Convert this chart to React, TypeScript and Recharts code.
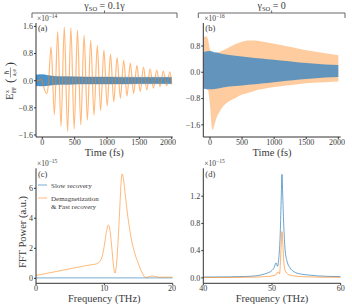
import React from 'react';
import { ComposedChart, Line, Area, XAxis, YAxis } from 'recharts';

const FONT = '"Liberation Serif", "DejaVu Serif", serif';
const BLUE = '#1f77b4';
const ORANGE = '#ff7f0e';
const INK = '#3a3a3a';

// (a) gamma_SO = 0.1 gamma : orange peaks/troughs, blue fast band
const timeA = [
  -100, -60, -20, 10, 40, 70, 95, 136, 187, 238, 289, 340, 391, 442, 493, 544, 595, 646, 697,
  748, 799, 850, 901, 952, 1003, 1054, 1105, 1156, 1207, 1258, 1309, 1360, 1411, 1462, 1513,
  1564, 1615, 1666, 1717, 1768, 1819, 1870, 1921, 1972, 2000,
];
const orangeA = [
  0.02, 0.0, 0.05, -0.1, -0.3, -0.38, -0.1, 1.0, -1.0, 1.45, -1.35, 1.58, -1.5, 1.56, -1.42,
  1.48, -1.3, 1.34, -1.16, 1.19, -1.02, 1.04, -0.88, 0.9, -0.74, 0.78, -0.62, 0.68, -0.52, 0.6,
  -0.45, 0.52, -0.38, 0.45, -0.32, 0.4, -0.27, 0.35, -0.22, 0.31, -0.18, 0.28, -0.15, 0.26, -0.1,
];
const bandTimeA = [-100, 0, 100, 200, 400, 700, 1000, 1500, 2000];
const blueLoA = [-0.15, -0.16, -0.14, -0.12, -0.11, -0.1, -0.1, -0.09, -0.09];
const blueHiA = [0.17, 0.18, 0.15, 0.13, 0.12, 0.11, 0.11, 0.1, 0.1];

// (b) gamma_SO = 0 : both signals are dense bands
const orangeTimeB = [
  -100, -60, -30, 0, 30, 45, 70, 100, 150, 200, 300, 400, 500, 600, 700, 800, 1000, 1200, 1400,
  1600, 1800, 2000,
];
const orangeLoB = [
  -0.45, -0.5, -0.55, -1.0, -1.7, -1.75, -1.6, -1.4, -1.2, -1.05, -0.88, -0.78, -0.68, -0.62,
  -0.56, -0.52, -0.45, -0.4, -0.36, -0.32, -0.3, -0.28,
];
const orangeHiB = [
  1.05, 1.1, 1.0, 0.7, 0.6, 0.58, 0.58, 0.6, 0.62, 0.66, 0.76, 0.86, 0.93, 0.97, 0.97, 0.94,
  0.87, 0.79, 0.71, 0.64, 0.58, 0.52,
];
const blueTimeB = [-100, 0, 100, 200, 400, 600, 800, 1000, 1200, 1400, 1600, 1800, 2000];
const blueLoB = [-0.5, -0.52, -0.5, -0.46, -0.42, -0.38, -0.34, -0.3, -0.26, -0.22, -0.19, -0.16, -0.14];
const blueHiB = [0.62, 0.65, 0.6, 0.56, 0.5, 0.46, 0.42, 0.38, 0.34, 0.3, 0.27, 0.24, 0.22];

// (c) FFT, low frequencies
const freqOrangeC = [
  0, 1, 2, 3, 4, 5, 6, 7, 8, 8.8, 9.3, 9.7, 10.0, 10.3, 10.6, 10.85, 11.1, 11.35, 11.55, 11.75,
  12.0, 12.25, 12.5, 12.6, 12.8, 13.1, 13.5, 14.0, 14.5, 15.0, 15.5, 16.0, 16.5, 17.0, 17.5, 18,
  19, 20,
];
const orangeC = [
  0.2, 0.28, 0.37, 0.46, 0.55, 0.64, 0.73, 0.82, 0.9, 0.96, 1.1, 1.5, 2.2, 3.1, 3.55, 3.1, 2.0,
  0.8, 0.35, 0.8, 2.4, 4.6, 6.7, 6.95, 6.6, 5.4, 3.9, 2.5, 1.6, 0.95, 0.4, 0.06, 0.1, 0.15, 0.13,
  0.08, 0.08, 0.08,
];
const freqBlueC = [0, 5, 10, 15, 20];
const blueC = [0.03, 0.03, 0.03, 0.03, 0.03];

// (d) FFT, around 51 THz
const freqBlueD = [
  40, 42, 44, 46, 47.5, 48.5, 49.3, 49.9, 50.3, 50.6, 50.8, 51.0, 51.2, 51.35, 51.45, 51.55, 51.7,
  51.9, 52.2, 52.6, 53.2, 54, 55, 56.5, 58, 60,
];
const blueD = [
  0.012, 0.013, 0.015, 0.02, 0.028, 0.045, 0.07, 0.1, 0.15, 0.22, 0.17, 0.3, 0.65, 1.2, 1.52,
  1.25, 0.8, 0.42, 0.24, 0.15, 0.09, 0.06, 0.045, 0.03, 0.022, 0.018,
];
const freqOrangeD = [40, 44, 47, 49, 50, 50.6, 50.9, 51.1, 51.3, 51.45, 51.6, 51.75, 52, 52.5, 53.5, 55, 57, 60];
const orangeD = [0.005, 0.006, 0.01, 0.018, 0.028, 0.045, 0.09, 0.06, 0.4, 0.68, 0.45, 0.2, 0.09, 0.045, 0.025, 0.015, 0.01, 0.008];

const timeTicks = [0, 500, 1000, 1500, 2000];

const points = (xs: number[], ys: number[]) => xs.map((x, i) => ({ x, y: ys[i] }));
const band = (xs: number[], lo: number[], hi: number[]) =>
  xs.map((x, i) => ({ x, r: [lo[i], hi[i]] }));

const fmt1 = (v: number) => (v < 0 ? '\u2212' : '') + Math.abs(v).toFixed(1);
const fmt0 = (v: number) => String(v);

const tickStyle = { fontSize: 8, fill: INK, fontFamily: FONT };

interface PanelProps {
  left: number;
  top: number;
  width: number;
  height: number;
  margin: { top: number; right: number; bottom: number; left: number };
  yWidth: number;
  xHeight: number;
  xDomain: [number, number];
  yDomain: [number, number];
  xTicks: number[];
  yTicks: number[];
  yFormat: (v: number) => string;
  sideStroke: string;
  sideWidth: number;
  children: React.ReactNode;
}

const Panel: React.FC<PanelProps> = (p) => (
  <div style={{ position: 'absolute', left: p.left, top: p.top }}>
    <ComposedChart width={p.width} height={p.height} margin={p.margin}>
      <XAxis
        dataKey="x"
        type="number"
        domain={p.xDomain}
        ticks={p.xTicks}
        allowDataOverflow
        height={p.xHeight}
        tick={tickStyle}
        tickSize={2}
        tickMargin={0}
        tickLine={{ stroke: '#333' }}
        axisLine={{ stroke: '#333' }}
      />
      <XAxis
        xAxisId="top"
        orientation="top"
        type="number"
        domain={p.xDomain}
        height={0}
        tick={false}
        tickLine={false}
        axisLine={{ stroke: '#9a9a9a', strokeWidth: 2 }}
      />
      <YAxis
        type="number"
        domain={p.yDomain}
        ticks={p.yTicks}
        allowDataOverflow
        width={p.yWidth}
        tick={tickStyle}
        tickFormatter={p.yFormat}
        tickSize={2}
        tickMargin={1}
        tickLine={{ stroke: '#333' }}
        axisLine={{ stroke: '#333' }}
      />
      <YAxis
        yAxisId="right"
        orientation="right"
        type="number"
        domain={p.yDomain}
        width={0}
        tick={false}
        tickLine={false}
        axisLine={{ stroke: p.sideStroke, strokeWidth: p.sideWidth }}
      />
      {p.children}
    </ComposedChart>
  </div>
);

const Sub: React.FC<{ x: number; y: number; size: number; children: React.ReactNode; anchor?: string }> = ({
  x,
  y,
  size,
  children,
  anchor,
}) => (
  <text
    x={x}
    y={y}
    fontSize={size}
    fill={INK}
    textAnchor={anchor || 'start'}
    style={{ fontFamily: FONT }}
  >
    {children}
  </text>
);

const Multiplier: React.FC<{ x: number; y: number; exp: string }> = ({ x, y, exp }) => (
  <text x={x} y={y} fontSize={7.5} fill={INK} style={{ fontFamily: FONT }}>
    ×10
    <tspan fontSize={5.5} dy={-3}>
      {exp}
    </tspan>
  </text>
);

const Bracket: React.FC<{ x1: number; x2: number; label: string }> = ({ x1, x2, label }) => {
  const cx = (x1 + x2) / 2;
  return (
    <g>
      <path d={`M${x1},18 V13 H${x2} V18 M${cx},13 V10.5`} fill="none" stroke="#666" strokeWidth={1} />
      <text x={cx} y={8.5} fontSize={10} fill={INK} textAnchor="middle" style={{ fontFamily: FONT }}>
        γ<tspan fontSize={6.5} dy={2}>SO</tspan>
        <tspan dy={-2}>{' = ' + label}</tspan>
      </text>
    </g>
  );
};

export default function App() {
  return (
    <div
      style={{
        position: 'absolute',
        left: 0,
        top: 0,
        width: 352,
        height: 308,
        background: '#fff',
        overflow: 'hidden',
        fontFamily: FONT,
      }}
    >
      <Panel
        left={0}
        top={0}
        width={176}
        height={150}
        margin={{ top: 23, right: 3.3, bottom: 0, left: 6 }}
        yWidth={30}
        xHeight={13}
        xDomain={[-97, 2015]}
        yDomain={[-1.66, 1.7]}
        xTicks={timeTicks}
        yTicks={[-1.6, -0.8, 0, 0.8, 1.6]}
        yFormat={fmt1}
        sideStroke="#9a9a9a"
        sideWidth={2}
      >
        <Line
          data={points(timeA, orangeA)}
          dataKey="y"
          type="monotone"
          stroke={ORANGE}
          strokeOpacity={0.55}
          strokeWidth={1.2}
          dot={false}
          isAnimationActive={false}
        />
        <Area
          data={band(bandTimeA, blueLoA, blueHiA)}
          dataKey="r"
          type="monotone"
          stroke="#2f83c6"
          strokeWidth={0.5}
          strokeOpacity={0.6}
          fill="#2a7fc0"
          fillOpacity={0.85}
          dot={false}
          isAnimationActive={false}
        />
      </Panel>

      <Panel
        left={180}
        top={0}
        width={165}
        height={150}
        margin={{ top: 23, right: 4.3, bottom: 0, left: 3.3 }}
        yWidth={20}
        xHeight={13}
        xDomain={[-104, 2037]}
        yDomain={[-1.97, 1.5]}
        xTicks={timeTicks}
        yTicks={[-1.6, -0.8, 0, 0.8]}
        yFormat={fmt1}
        sideStroke="#333"
        sideWidth={1}
      >
        <Area
          data={band(orangeTimeB, orangeLoB, orangeHiB)}
          dataKey="r"
          type="monotone"
          stroke="none"
          fill={ORANGE}
          fillOpacity={0.4}
          dot={false}
          isAnimationActive={false}
        />
        <Area
          data={band(blueTimeB, blueLoB, blueHiB)}
          dataKey="r"
          type="monotone"
          stroke="none"
          fill="#2f83c6"
          fillOpacity={0.75}
          dot={false}
          isAnimationActive={false}
        />
      </Panel>

      <Panel
        left={0}
        top={150}
        width={176}
        height={150}
        margin={{ top: 18.3, right: 3.3, bottom: 0, left: 6 }}
        yWidth={30}
        xHeight={16.7}
        xDomain={[0, 20]}
        yDomain={[-0.33, 7.33]}
        xTicks={[0, 10, 20]}
        yTicks={[0, 2, 4, 6]}
        yFormat={fmt0}
        sideStroke="#9a9a9a"
        sideWidth={2}
      >
        <Line
          data={points(freqBlueC, blueC)}
          dataKey="y"
          type="monotone"
          stroke={BLUE}
          strokeOpacity={0.6}
          strokeWidth={1}
          dot={false}
          isAnimationActive={false}
        />
        <Line
          data={points(freqOrangeC, orangeC)}
          dataKey="y"
          type="monotone"
          stroke={ORANGE}
          strokeOpacity={0.55}
          strokeWidth={1}
          dot={false}
          isAnimationActive={false}
        />
      </Panel>

      <Panel
        left={180}
        top={150}
        width={165}
        height={150}
        margin={{ top: 18.3, right: 4.3, bottom: 0, left: 3.3 }}
        yWidth={20}
        xHeight={16.7}
        xDomain={[40, 60]}
        yDomain={[-0.08, 1.61]}
        xTicks={[40, 50, 60]}
        yTicks={[0, 0.4, 0.8, 1.2]}
        yFormat={fmt1}
        sideStroke="#333"
        sideWidth={1}
      >
        <Line
          data={points(freqBlueD, blueD)}
          dataKey="y"
          type="monotone"
          stroke={BLUE}
          strokeOpacity={0.65}
          strokeWidth={1}
          dot={false}
          isAnimationActive={false}
        />
        <Line
          data={points(freqOrangeD, orangeD)}
          dataKey="y"
          type="monotone"
          stroke={ORANGE}
          strokeOpacity={0.6}
          strokeWidth={1}
          dot={false}
          isAnimationActive={false}
        />
      </Panel>

      {/* shared text layer: titles, labels, legend */}
      <svg
        width={352}
        height={308}
        style={{ position: 'absolute', left: 0, top: 0, pointerEvents: 'none', fontFamily: FONT }}
      >
        <Bracket x1={32} x2={177} label="0.1γ" />
        <Bracket x1={198.3} x2={345} label="0" />

        <Multiplier x={37} y={20.5} exp="−14" />
        <Multiplier x={204.3} y={20.5} exp="−16" />
        <Multiplier x={37} y={166} exp="−15" />
        <Multiplier x={204.3} y={166} exp="−15" />

        <Sub x={38} y={31} size={8.5}>(a)</Sub>
        <Sub x={205.3} y={31} size={8.5}>(b)</Sub>
        <Sub x={38} y={176.5} size={8.5}>(c)</Sub>
        <Sub x={205.3} y={176.5} size={8.5}>(d)</Sub>

        <Sub x={104.3} y={156} size={10.5} anchor="middle">Time (fs)</Sub>
        <Sub x={272} y={156} size={10.5} anchor="middle">Time (fs)</Sub>
        <Sub x={104.3} y={302} size={10.5} anchor="middle">Frequency (THz)</Sub>
        <Sub x={272} y={302} size={10.5} anchor="middle">Frequency (THz)</Sub>

        {/* E^x_FF (hbar / a0 e) */}
        <g transform="translate(13,79) rotate(-90)" fill={INK} style={{ fontFamily: FONT }}>
          <text x={-21} y={0} fontSize={10.5}>E</text>
          <text x={-14} y={-4.5} fontSize={6}>x</text>
          <text x={-14} y={2.5} fontSize={5.5}>FF</text>
          <text x={-4} y={1} fontSize={13.5}>(</text>
          <text x={6.5} y={-4} fontSize={6.5} textAnchor="middle">ℏ</text>
          <line x1={1.5} x2={11.5} y1={-2.5} y2={-2.5} stroke={INK} strokeWidth={0.5} />
          <text x={6.5} y={2.5} fontSize={5.5} textAnchor="middle">
            a<tspan fontSize={4} dy={1}>0</tspan>
            <tspan dy={-1}>e</tspan>
          </text>
          <text x={12.5} y={1} fontSize={13.5}>)</text>
        </g>

        <text
          transform="translate(26,232) rotate(-90)"
          fontSize={10.5}
          fill={INK}
          textAnchor="middle"
          style={{ fontFamily: FONT }}
        >
          FFT Power (a.u.)
        </text>

        {/* legend of panel (c) */}
        <line x1={38} x2={47} y1={185} y2={185} stroke={BLUE} strokeOpacity={0.6} strokeWidth={1} />
        <Sub x={51} y={188} size={7}>Slow recovery</Sub>
        <line x1={38} x2={47} y1={198} y2={198} stroke={ORANGE} strokeOpacity={0.55} strokeWidth={1} />
        <Sub x={51} y={200.5} size={7}>Demagnetization</Sub>
        <Sub x={51} y={208.5} size={7}>&amp; Fast recovery</Sub>
      </svg>
    </div>
  );
}
